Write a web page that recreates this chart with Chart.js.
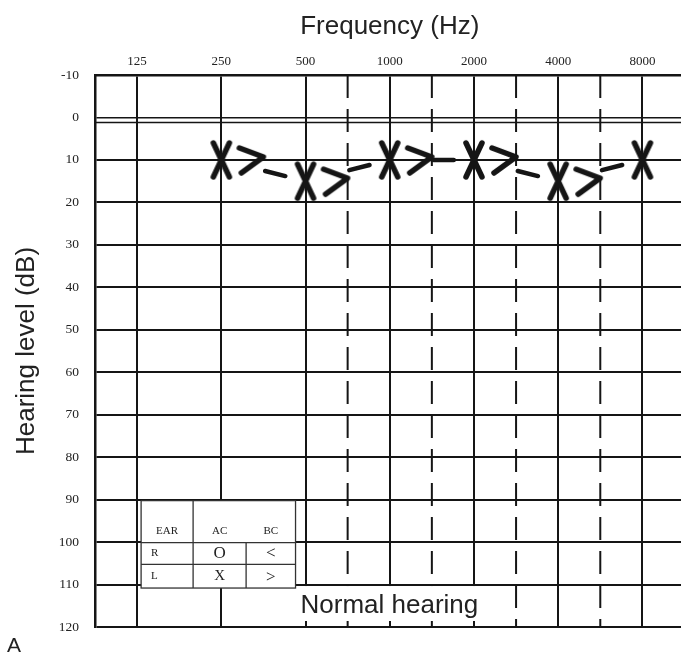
<!DOCTYPE html>
<html>
<head>
<meta charset="utf-8">
<script src="https://cdn.jsdelivr.net/npm/chart.js@4/dist/chart.umd.min.js"></script>
<style>
  html, body { margin: 0; padding: 0; background: #fff; overflow: hidden; }
  #wrap { width: 695px; height: 655px; }
</style>
</head>
<body>
<div id="wrap"><canvas id="audiogram" width="695" height="655"></canvas></div>
<script>
// octave frequencies on the top axis, half-octave (dashed) lines between them
var frequencies = [125, 250, 500, 1000, 2000, 4000, 8000];
var midFrequencies = [750, 1500, 3000, 6000];
var levelTicks = [-10, 0, 10, 20, 30, 40, 50, 60, 70, 80, 90, 100, 110, 120];

// left ear, air conduction (X) and bone conduction (>)
var acFrequencies = [250, 500, 1000, 2000, 4000, 8000];
var leftAC = [10, 15, 10, 10, 15, 10];
var bcFrequencies = [250, 500, 1000, 2000, 4000];
var leftBC = [10, 15, 10, 10, 15];

var ink = '#151515';
var serif = '"Liberation Serif", "Times New Roman", serif';
var sans = '"Liberation Sans", Arial, sans-serif';

// hand drawn looking X
function makeCross() {
    var c = document.createElement('canvas');
    c.width = 30; c.height = 46;
    var g = c.getContext('2d');
    g.strokeStyle = ink; g.lineWidth = 5.5; g.lineCap = 'round';
    g.beginPath();
    g.moveTo(7, 6); g.lineTo(23, 40);
    g.moveTo(23, 6); g.lineTo(7, 40);
    g.stroke();
    return c;
}

// ">" sits to the right of its frequency, so the glyph is drawn off-centre
function makeChevron() {
    var c = document.createElement('canvas');
    c.width = 92; c.height = 36;
    var g = c.getContext('2d');
    g.strokeStyle = ink; g.lineWidth = 5.5; g.lineCap = 'round'; g.lineJoin = 'round';
    g.beginPath();
    g.moveTo(64, 6); g.lineTo(88, 15); g.lineTo(66, 31);
    g.stroke();
    return c;
}

function segLen(ctx) {
    return Math.hypot(ctx.p1.x - ctx.p0.x, ctx.p1.y - ctx.p0.y);
}

var decor = {
    id: 'decor',
    beforeDatasetsDraw: function (chart) {
        var x = chart.scales.x, y = chart.scales.y, a = chart.chartArea, g = chart.ctx;
        g.save();
        g.strokeStyle = ink;
        // half-octave dashed lines
        g.lineWidth = 2;
        g.setLineDash([23, 11]);
        midFrequencies.forEach(function (f) {
            var lo = frequencies.filter(function (v) { return v < f; }).pop();
            var hi = frequencies.filter(function (v) { return v > f; })[0];
            var px = (x.getPixelForValue(lo) + x.getPixelForValue(hi)) / 2;
            g.beginPath(); g.moveTo(px, a.top); g.lineTo(px, a.bottom); g.stroke();
        });
        // doubled 0 dB line
        g.setLineDash([]);
        g.lineWidth = 1.5;
        var y0 = y.getPixelForValue(0) + 5;
        g.beginPath(); g.moveTo(a.left, y0); g.lineTo(a.right, y0); g.stroke();
        g.restore();
    },
    afterDraw: function (chart) {
        var x = chart.scales.x, y = chart.scales.y, g = chart.ctx;
        g.save();

        // blank strip along the bottom row for the label
        var sx = x.getPixelForValue(250) + 2, ex = x.getPixelForValue(2000) + 10;
        var sy = y.getPixelForValue(110) + 1.5, ey = y.getPixelForValue(120) - 6;
        g.fillStyle = '#fff';
        g.fillRect(sx, sy, ex - sx, ey - sy);
        g.fillStyle = '#222';
        g.font = '26px ' + sans;
        g.textBaseline = 'alphabetic';
        g.textAlign = 'left';
        g.fillText('Normal hearing', x.getPixelForValue(500) - 5, y.getPixelForValue(120) - 14);

        // symbol key
        var l = x.getPixelForValue(125) + 4, r = x.getPixelForValue(500) - 10;
        var t = y.getPixelForValue(90) + 1, b = y.getPixelForValue(110) + 3.5;
        var h1 = y.getPixelForValue(100) + 0.5, h2 = (h1 + b) / 2 - 1;
        var c1 = l + 52, c2 = l + 105;
        g.fillStyle = '#fff';
        g.fillRect(l, t, r - l, b - t);
        g.strokeStyle = '#333';
        g.lineWidth = 1.3;
        g.strokeRect(l, t, r - l, b - t);
        g.beginPath();
        g.moveTo(l, h1); g.lineTo(r, h1);
        g.moveTo(l, h2); g.lineTo(r, h2);
        g.moveTo(c1, t); g.lineTo(c1, b);
        g.moveTo(c2, h1); g.lineTo(c2, b);
        g.stroke();
        g.fillStyle = '#222';
        g.textBaseline = 'middle';
        g.textAlign = 'center';
        g.font = '11px ' + serif;
        g.fillText('EAR', (l + c1) / 2, h1 - 11);
        g.fillText('AC', (c1 + c2) / 2, h1 - 11);
        g.fillText('BC', (c2 + r) / 2, h1 - 11);
        g.textAlign = 'left';
        g.fillText('R', l + 10, (h1 + h2) / 2);
        g.fillText('L', l + 10, (h2 + b) / 2);
        g.textAlign = 'center';
        g.font = '17px ' + serif;
        g.fillText('O', (c1 + c2) / 2, (h1 + h2) / 2);
        g.fillText('<', (c2 + r) / 2, (h1 + h2) / 2);
        g.fillText('>', (c2 + r) / 2, (h2 + b) / 2 + 1);
        g.font = '15px ' + serif;
        g.fillText('X', (c1 + c2) / 2, (h2 + b) / 2);

        // panel letter
        g.textAlign = 'left';
        g.textBaseline = 'alphabetic';
        g.font = '21px ' + sans;
        g.fillText('A', 7, 652);
        g.restore();
    }
};

var ctx = document.getElementById('audiogram').getContext('2d');
var chart = new Chart(ctx, {
    type: 'line',
    data: {
        datasets: [
            {
                label: 'Left AC',
                data: acFrequencies.map(function (f, i) { return { x: f, y: leftAC[i] }; }),
                borderColor: ink,
                borderWidth: 4.5,
                borderCapStyle: 'round',
                pointStyle: makeCross(),
                pointRadius: 6,
                segment: {
                    // only a short stroke between marks, like the pen trace
                    borderDash: function (c) { var L = segLen(c); return [L * 0.24, L * 2 + c.p0DataIndex]; },
                    borderDashOffset: function (c) { return -segLen(c) * 0.52; }
                }
            },
            {
                label: 'Left BC',
                data: bcFrequencies.map(function (f, i) { return { x: f, y: leftBC[i] }; }),
                showLine: false,
                pointStyle: makeChevron(),
                pointRadius: 6
            }
        ]
    },
    options: {
        responsive: false,
        animation: false,
        events: [],
        layout: { padding: { left: 0, right: 0, top: 0, bottom: 28 } },
        plugins: { legend: { display: false }, tooltip: { enabled: false } },
        scales: {
            x: {
                type: 'logarithmic',
                position: 'top',
                min: frequencies[0] / Math.SQRT2,
                max: frequencies[frequencies.length - 1] * Math.SQRT2,
                afterBuildTicks: function (s) { s.ticks = frequencies.map(function (v) { return { value: v }; }); },
                afterFit: function (s) { s.height = 75; },
                ticks: {
                    autoSkip: false, maxRotation: 0, padding: 6, color: '#222',
                    font: { family: serif, size: 13 },
                    callback: function (v) { return String(v); }
                },
                grid: { color: ink, lineWidth: 2, drawTicks: false },
                border: { color: ink, width: 2.5 },
                title: {
                    display: true, text: 'Frequency (Hz)', color: '#222',
                    font: { family: sans, size: 26 },
                    padding: { top: 11, bottom: 0 }
                }
            },
            y: {
                reverse: true,
                min: -10,
                max: 120,
                afterBuildTicks: function (s) { s.ticks = levelTicks.map(function (v) { return { value: v }; }); },
                afterFit: function (s) { s.width = 95; },
                ticks: {
                    padding: 16, color: '#222',
                    font: { family: serif, size: 13.5 },
                    callback: function (v) { return String(v); }
                },
                grid: {
                    color: ink, drawTicks: false,
                    lineWidth: function (c) { return c.tick && c.tick.value === 0 ? 1.5 : 2; }
                },
                border: { color: ink, width: 2.5 },
                title: {
                    display: true, text: 'Hearing level (dB)', color: '#222',
                    font: { family: sans, size: 26 },
                    padding: { top: 11, bottom: 0 }
                }
            }
        }
    },
    plugins: [decor]
});
</script>
</body>
</html>
